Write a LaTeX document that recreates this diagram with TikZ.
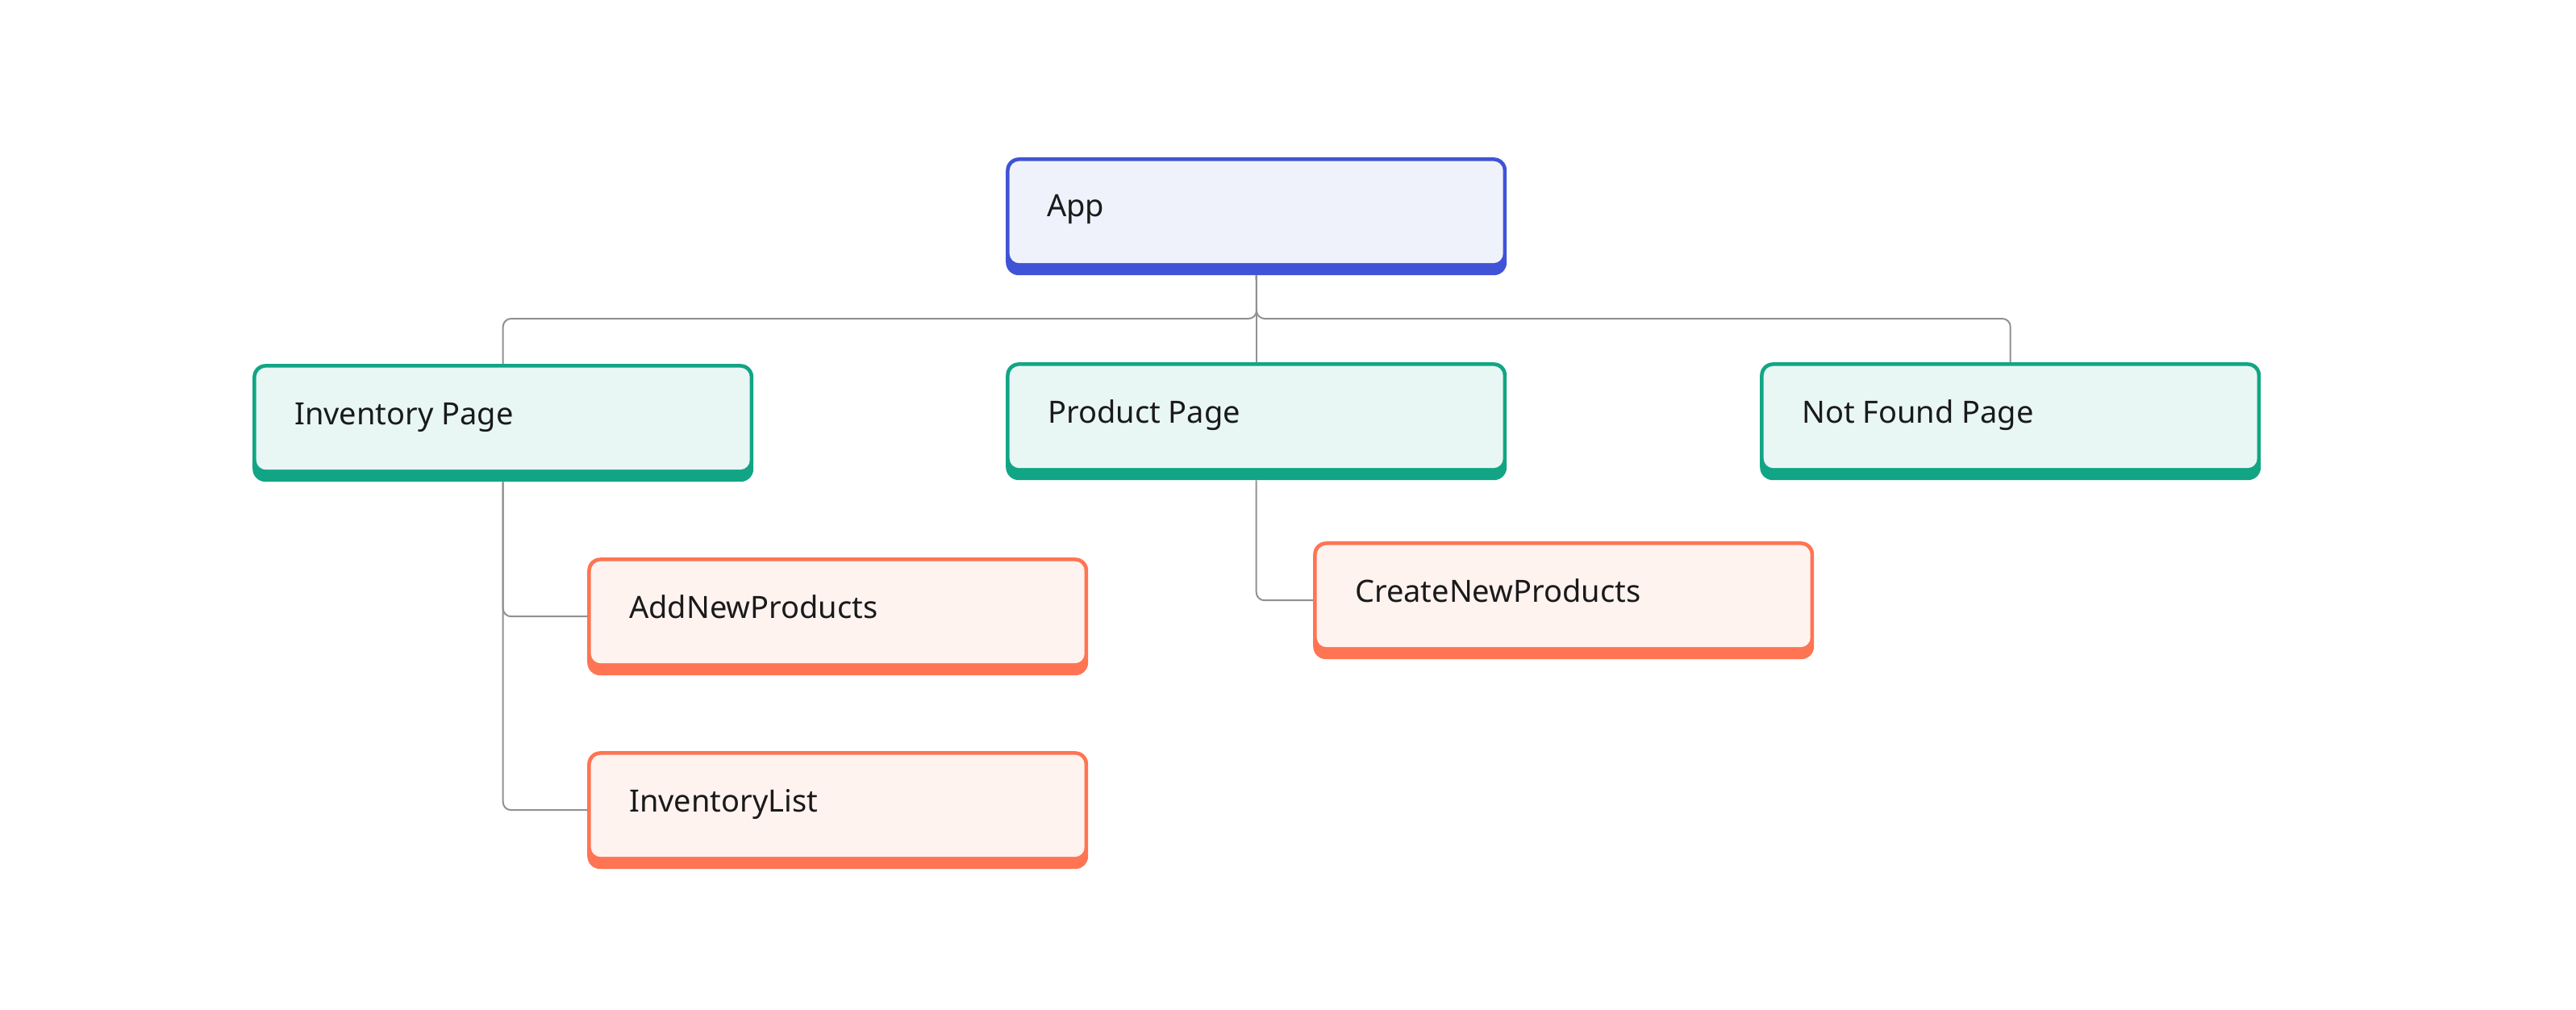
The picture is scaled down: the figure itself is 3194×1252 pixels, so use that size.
\documentclass[tikz,border=0pt]{standalone}
\usepackage{fontspec}
\setmainfont{Noto Sans}
\definecolor{blueB}{RGB}{64,83,214}
\definecolor{blueF}{RGB}{239,242,251}
\definecolor{greenB}{RGB}{18,165,133}
\definecolor{greenF}{RGB}{233,247,244}
\definecolor{oranB}{RGB}{255,116,82}
\definecolor{oranF}{RGB}{255,243,240}
\definecolor{lineC}{RGB}{145,145,145}
\definecolor{txtC}{RGB}{26,26,26}
\tikzset{
  cardbox/.style 2 args={rectangle, rounded corners=16pt, fill=#1,
    minimum width=621pt, minimum height=146pt, inner sep=0pt, anchor=north west,
    path picture={\fill[#2, rounded corners=12pt]
      ([shift={(4.5pt,-4.5pt)}]path picture bounding box.north west) rectangle
      ([shift={(-4.5pt,15pt)}]path picture bounding box.south east);}},
  bluebox/.style={cardbox={blueB}{blueF}},
  greenbox/.style={cardbox={greenB}{greenF}},
  oranbox/.style={cardbox={oranB}{oranF}},
  lbl/.style={anchor=base west, inner sep=0pt, text=txtC, font=\fontsize{38}{46}\selectfont},
  conn/.style={draw=lineC, line width=2pt, rounded corners=10pt}
}
\begin{document}
\begin{tikzpicture}[x=1pt,y=-1pt]
\useasboundingbox[fill=white] (0,0) rectangle (3194,1252);
\coordinate (j) at (1558,395);
\node[bluebox] (app) at (1247,195) {};
\node[greenbox] (inv) at (313,451) {};
\node[greenbox] (prod) at (1247,449) {};
\node[greenbox] (nf) at (2182,449) {};
\node[oranbox] (addn) at (728,691) {};
\node[oranbox] (invl) at (728,931) {};
\node[oranbox] (cnp) at (1628,671) {};
% connectors
\draw[conn] (app.south) -- (prod.north);
\draw[conn] (app.south) -- (j) -| (inv.north);
\draw[conn] (app.south) -- (j) -| (nf.north);
\draw[conn] (inv.south) |- (addn.west);
\draw[conn] (inv.south) |- (invl.west);
\draw[conn] (prod.south) |- (cnp.west);
% labels
\node[lbl] (appt) at ([shift={(51pt,-74pt)}]app.north west) {App};
\node[lbl] (invt) at ([shift={(52pt,-75pt)}]inv.north west) {Inventory Page};
\node[lbl] (prodt) at ([shift={(52pt,-75pt)}]prod.north west) {Product Page};
\node[lbl] (nft) at ([shift={(52pt,-75pt)}]nf.north west) {Not Found Page};
\node[lbl] (addnt) at ([shift={(52pt,-75pt)}]addn.north west) {AddNewProducts};
\node[lbl] (invlt) at ([shift={(52pt,-75pt)}]invl.north west) {InventoryList};
\node[lbl] (cnpt) at ([shift={(52pt,-75pt)}]cnp.north west) {CreateNewProducts};
\end{tikzpicture}
\end{document}
